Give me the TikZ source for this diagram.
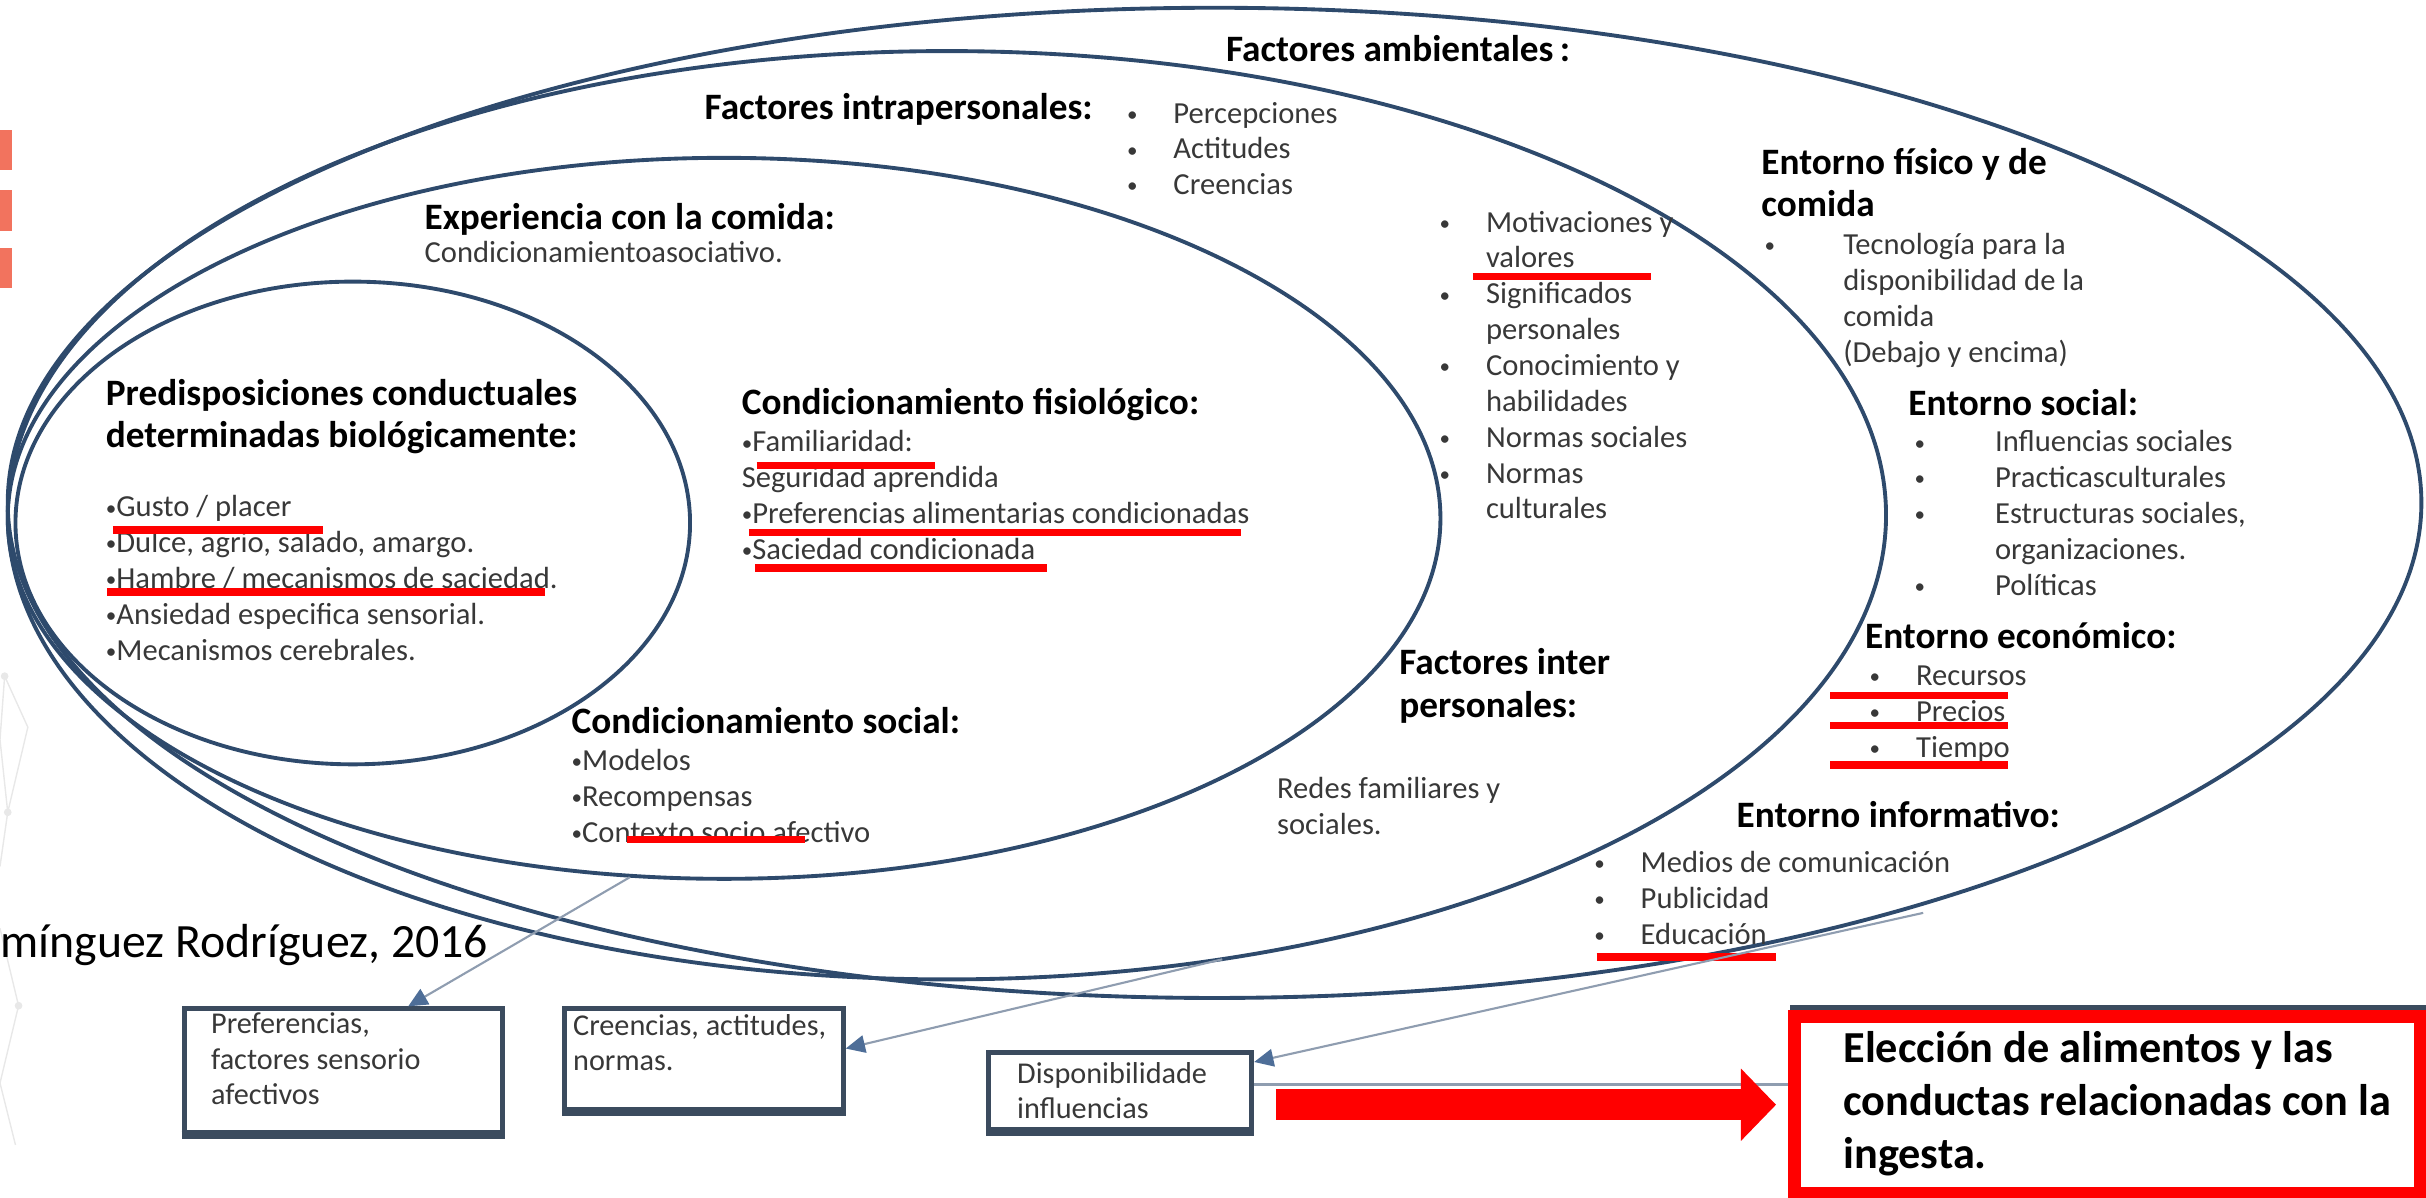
\documentclass[tikz,border=0pt]{standalone}
\usepackage{fontspec}
\setmainfont{Carlito}
\usetikzlibrary{arrows.meta,calc,fit}
\definecolor{ellc}{HTML}{2E4A6C}
\definecolor{boxc}{HTML}{3B4B5E}
\definecolor{connc}{HTML}{8F9DB0}
\definecolor{arrc}{HTML}{4E6E98}
\definecolor{txtc}{HTML}{383838}
\definecolor{salmon}{HTML}{F2735E}
\definecolor{redc}{HTML}{FF0000}
\newcommand\ib{\raisebox{0.5pt}{\fontsize{6}{6}\selectfont •}}
\newcommand\blk[1]{\begin{tabular}[t]{@{}l@{}}#1\end{tabular}}
\newcommand\tbul[2][13.2pt]{\makebox[#1][l]{\ib}#2}
\newcommand\tnob[2][13.2pt]{\makebox[#1][l]{}#2}
\tikzset{
 hd/.style={font=\fontsize{10.6}{12.1}\selectfont\bfseries, text=black, anchor=base west, inner sep=0pt},
 tx/.style={font=\fontsize{8.7}{10.2}\selectfont, text=txtc, anchor=base west, inner sep=0pt},
 bx/.style={font=\fontsize{8.6}{10.1}\selectfont, text=txtc, anchor=base west, inner sep=0pt},
 ell/.style={draw=ellc, line width=1.1pt},
 boxst/.style={draw=boxc, line width=1.4pt, inner sep=0pt, fill=white},
 boxbot/.style={draw=boxc, line width=2.4pt},
 conn/.style={draw=connc, line width=0.6pt, -{Triangle[length=5.5pt,width=5pt,color=arrc,fill=arrc]}},
 ul/.style={draw=redc, line width=2.1pt},
 deco/.style={draw=black!9, line width=0.4pt},
}
\begin{document}
\begin{tikzpicture}[x=0.015472cm, y=-0.015472cm]
\useasboundingbox (0,0) rectangle (1568,774);

% faint decoration at the left
\draw[deco] (3,437) -- (0,478) -- (5,525) -- (0,560);
\draw[deco] (3,437) -- (18,470) -- (5,525);
\draw[deco] (0,600) -- (12,650) -- (0,700) -- (10,740);
\fill[black!9] (3,437) circle (2.5) (5,525) circle (2.5) (12,650) circle (2.5);

% salmon marks
\fill[salmon] (0,84) rectangle (7.5,110);
\fill[salmon] (0,123) rectangle (7.5,149);
\fill[salmon] (0,160) rectangle (7.5,186);

% ellipses
\draw[ell] (785,325) ellipse [x radius=780, y radius=320];
\draw[ell] (612,333) ellipse [x radius=607, y radius=300];
\draw[ell] (468,335) ellipse [x radius=463, y radius=233];
\draw[ell] (228,338) ellipse [x radius=218, y radius=156];

% connector start points on the ellipses
\coordinate (cB) at (407,567);
\coordinate (cC) at (790,620);
\coordinate (cA) at (1243,590);

% headings and texts
\node[hd] (amb) at (792,40) {Factores ambientales\,:};
\node[hd] (intra) at (455,77) {Factores intrapersonales:};
\node[tx] (intral) at (728,79.5) {\blk{\tbul{Percepciones}\\ \tbul{Actitudes}\\ \tbul{Creencias}}};

\node[hd] (exper) at (274,148) {Experiencia con la comida:};
\node[tx] (experl) at (274,169.5) {Condicionamientoasociativo.};

\node[hd] (pred) at (68,262) {\blk{Predisposiciones conductuales\\ determinadas biológicamente:}};
\node[tx] (predl) at (68,334) {\blk{\ib Gusto / placer\\ \ib Dulce, agrio, salado, amargo.\\ \ib Hambre / mecanismos de saciedad.\\ \ib Ansiedad especifica sensorial.\\ \ib Mecanismos cerebrales.}};

\node[hd] (fisio) at (479,268) {Condicionamiento fisiológico:};
\node[tx] (fisiol) at (479,292) {\blk{\ib Familiaridad:\\ Seguridad aprendida\\ \ib Preferencias alimentarias condicionadas\\ \ib Saciedad condicionada}};

\node[hd] (csoc) at (369,474) {Condicionamiento social:};
\node[tx] (csocl) at (369,498) {\blk{\ib Modelos\\ \ib Recompensas\\ \ib Contexto socio afectivo}};

\node[tx] (motiv) at (930,150) {\blk{\tbul{Motivaciones y}\\ \tnob{valores}\\ \tbul{Significados}\\ \tnob{personales}\\ \tbul{Conocimiento y}\\ \tnob{habilidades}\\ \tbul{Normas sociales}\\ \tbul{Normas}\\ \tnob{culturales}}};

\node[hd] (inter) at (904,436) {\blk{Factores inter\\ personales:}};
\node[tx] (redes) at (825,516) {\blk{Redes familiares y\\ sociales.}};

\node[hd] (efis) at (1138,112.5) {\blk{Entorno físico y de\\ comida}};
\node[tx] (efisl) at (1140,164.5) {\blk{\tbul[22.4pt]{Tecnología para la}\\ \tnob[22.4pt]{disponibilidad de la}\\ \tnob[22.4pt]{comida}\\ \tnob[22.4pt]{(Debajo y encima)}}};

\node[hd] (esoc) at (1233,268.5) {Entorno social:};
\node[tx] (esocl) at (1237,292) {\blk{\tbul[22.9pt]{Influencias sociales}\\ \tbul[22.9pt]{Practicasculturales}\\ \tbul[22.9pt]{Estructuras sociales,}\\ \tnob[22.9pt]{organizaciones.}\\ \tbul[22.9pt]{Políticas}}};

\node[hd] (eeco) at (1205,419) {Entorno económico:};
\node[tx] (eecol) at (1208,443) {\blk{\tbul{Recursos}\\ \tbul{Precios}\\ \tbul{Tiempo}}};

\node[hd] (einf) at (1122,535) {Entorno informativo:};
\node[tx] (einfl) at (1030,564) {\blk{\tbul{Medios de comunicación}\\ \tbul{Publicidad}\\ \tbul{Educación}}};

\node[font=\fontsize{13.6}{15}\selectfont, anchor=base west, inner sep=0pt] (cite) at (0,619) {mínguez Rodríguez, 2016};

% red underlines
\draw[ul] (73,342.5) -- (209,342.5);
\draw[ul] (69,382.5) -- (352,382.5);
\draw[ul] (489,301) -- (604,301);
\draw[ul] (484,344) -- (802,344);
\draw[ul] (488,367) -- (677,367);
\draw[ul] (405,542.5) -- (520,542.5);
\draw[ul] (952,178.5) -- (1067,178.5);
\draw[ul] (1183,449.5) -- (1298,449.5);
\draw[ul] (1183,469) -- (1298,469);
\draw[ul] (1183,494.5) -- (1298,494.5);
\draw[ul] (1032,618.5) -- (1148,618.5);

% boxes
\node[boxst, fit={(119,652) (325,732)}] (box1) {};
\node[boxst, fit={(365,652) (545,717)}] (box2) {};
\node[boxst, fit={(639,680) (809,730)}] (box3) {};
\draw[boxbot] (box1.south west) -- (box1.south east);
\draw[boxbot] (box2.south west) -- (box2.south east);
\draw[boxbot] (box3.south west) -- (box3.south east);
\node[bx] (b1t) at (136,668) {\blk{Preferencias,\\ factores sensorio\\ afectivos}};
\node[bx] (b2t) at (370,669) {\blk{Creencias, actitudes,\\ normas.}};
\node[bx] (b3t) at (657,700) {\blk{Disponibilidade\\ influencias}};

\draw[draw=boxc, line width=1.4pt] (1157,651) -- (1568,651);
\node[fit={(1160,657) (1564,771)}, draw=redc, line width=3.6pt, inner sep=0pt, fill=white] (box4) {};
\node[font=\fontsize{12.6}{15}\selectfont\bfseries, anchor=base west, inner sep=0pt] (b4t) at (1191,687) {\blk{Elección de alimentos y las\\ conductas relacionadas con la\\ ingesta.}};

% connectors
\draw[conn] (cB) -- ($(box1.north west)!0.7!(box1.north east)$);
\draw[conn] (cC) -- ($(box2.north east)!0.4!(box2.south east)$);
\draw[conn] (cA) -- ($(box3.north east)!0.15!(box3.south east)$);
\coordinate (gl) at ($(box3.east)+(0,-4)$);
\draw[draw=connc, line width=0.7pt] (gl) -- (gl -| box4.west);
\coordinate (ra0) at (box3.east |- box4.west);
\draw[redc, line width=8.8pt, -{Triangle[length=10pt,width=20pt]}] ($(ra0)+(14,0)$) -- ($(box4.west)+(-8,0)$);
\end{tikzpicture}
\end{document}
